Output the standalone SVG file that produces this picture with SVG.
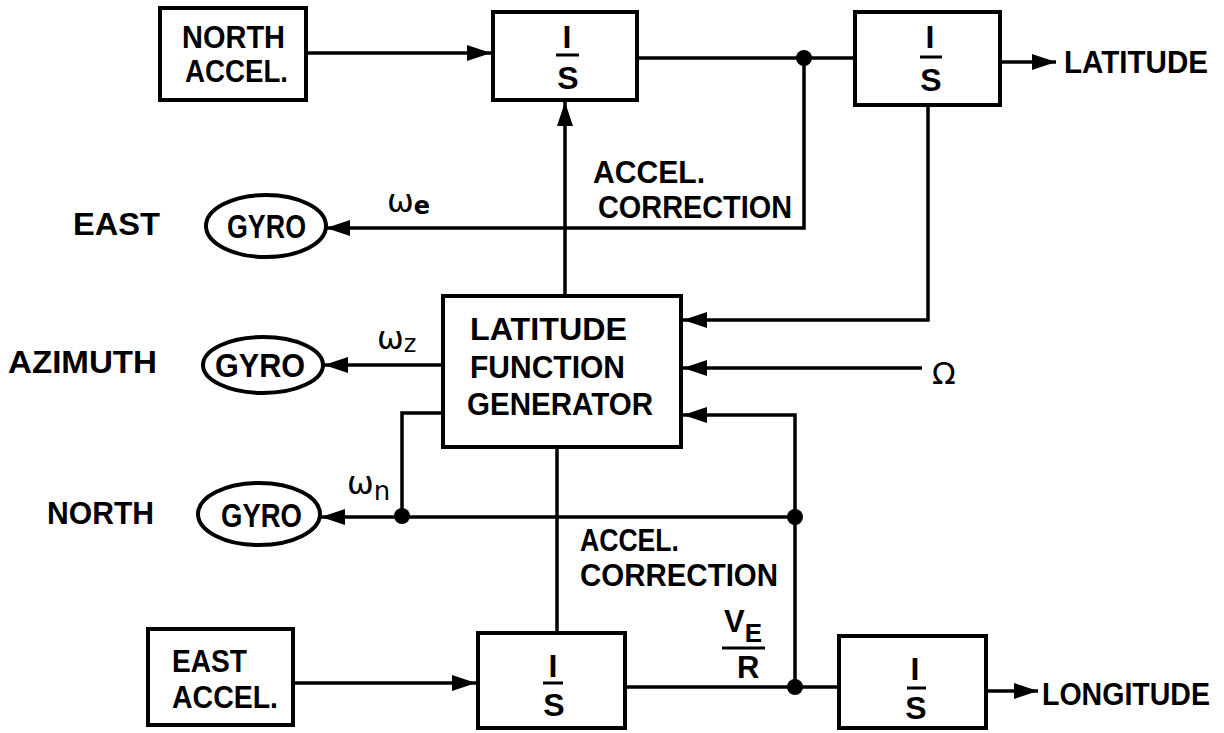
<svg xmlns="http://www.w3.org/2000/svg" width="1224" height="733" viewBox="0 0 1224 733">
<style>
.bx{fill:#fff;stroke:#000;stroke-width:4}
.ln{fill:none;stroke:#000;stroke-width:3.5}
.bar{stroke:#000;stroke-width:3}
.t{font-family:"Liberation Sans",Arial,sans-serif;font-size:31px;font-weight:bold;fill:#000}
.gy{font-size:33px}
.c{text-anchor:middle}
.is{font-size:32px}
.g{font-family:"DejaVu Sans",sans-serif;fill:#000}
</style>
<defs>
<marker id="ah" markerUnits="userSpaceOnUse" markerWidth="25" markerHeight="16" refX="24" refY="8" orient="auto">
<path d="M0,0 L24,8 L0,16 z" fill="#000"/>
</marker>
</defs>
<rect width="1224" height="733" fill="#fff"/>
<g id="connectors">
<path class="ln" d="M306,53 H491" marker-end="url(#ah)"/>
<path class="ln" d="M637,58 H855"/>
<path class="ln" d="M1000,62 H1056" marker-end="url(#ah)"/>
<path class="ln" d="M804,58 V228 H326" marker-end="url(#ah)"/>
<path class="ln" d="M565,296 V102" marker-end="url(#ah)"/>
<path class="ln" d="M928,105 V320 H683" marker-end="url(#ah)"/>
<path class="ln" d="M922,368 H683" marker-end="url(#ah)"/>
<path class="ln" d="M795,687 V415 H683" marker-end="url(#ah)"/>
<path class="ln" d="M443,365 H324" marker-end="url(#ah)"/>
<path class="ln" d="M443,413 H402 V515"/>
<path class="ln" d="M795,517 H321" marker-end="url(#ah)"/>
<path class="ln" d="M557,447 V633"/>
<path class="ln" d="M293,683 H476" marker-end="url(#ah)"/>
<path class="ln" d="M625,687 H839"/>
<path class="ln" d="M986,691 H1038" marker-end="url(#ah)"/>
<circle cx="804" cy="58" r="8"/>
<circle cx="402" cy="516" r="8"/>
<circle cx="795" cy="517" r="8"/>
<circle cx="795" cy="687" r="8"/>
</g>
<g id="north-accel">
<rect class="bx" x="160" y="8" width="146" height="92"/>
<text class="t" x="182" y="48" textLength="103" lengthAdjust="spacingAndGlyphs">NORTH</text>
<text class="t" x="185" y="82" textLength="103" lengthAdjust="spacingAndGlyphs">ACCEL.</text>
</g>
<g id="integrator-north">
<rect class="bx" x="493" y="12" width="144" height="88"/>
<text class="t c is" x="567" y="48">I</text>
<line class="bar" x1="556" y1="55" x2="579" y2="55"/>
<text class="t c is" x="568" y="89">S</text>
</g>
<g id="integrator-latitude">
<rect class="bx" x="855" y="12" width="145" height="93"/>
<text class="t c is" x="930" y="48">I</text>
<line class="bar" x1="920" y1="57" x2="942" y2="57"/>
<text class="t c is" x="931" y="91">S</text>
</g>
<g id="latitude-out">
<text class="t" x="1064" y="73" textLength="144" lengthAdjust="spacingAndGlyphs">LATITUDE</text>
</g>
<g id="east-gyro">
<text class="t" x="73" y="235" textLength="87" lengthAdjust="spacingAndGlyphs">EAST</text>
<ellipse class="bx" cx="266" cy="226" rx="60" ry="31"/>
<text class="t gy" x="227" y="238" textLength="79" lengthAdjust="spacingAndGlyphs">GYRO</text>
<text class="g" x="387" y="212" font-size="32">ω<tspan font-size="24" font-weight="bold" dy="2">e</tspan></text>
</g>
<g id="accel-correction-top">
<text class="t" x="593" y="183" textLength="112" lengthAdjust="spacingAndGlyphs">ACCEL.</text>
<text class="t" x="598" y="218" textLength="194" lengthAdjust="spacingAndGlyphs">CORRECTION</text>
</g>
<g id="azimuth-gyro">
<text class="t" x="8" y="373" textLength="149" lengthAdjust="spacingAndGlyphs">AZIMUTH</text>
<ellipse class="bx" cx="263" cy="365" rx="60" ry="28"/>
<text class="t gy" x="215" y="377" textLength="90" lengthAdjust="spacingAndGlyphs">GYRO</text>
<text class="g" x="377" y="349" font-size="32">ω<tspan font-size="24" dy="3">z</tspan></text>
</g>
<g id="latitude-function-generator">
<rect class="bx" x="443" y="296" width="238" height="151"/>
<text class="t" x="470" y="340" textLength="157" lengthAdjust="spacingAndGlyphs">LATITUDE</text>
<text class="t" x="470" y="378" textLength="155" lengthAdjust="spacingAndGlyphs">FUNCTION</text>
<text class="t" x="467" y="415" textLength="186" lengthAdjust="spacingAndGlyphs">GENERATOR</text>
</g>
<g id="omega-in">
<text class="g" x="932" y="384" font-size="31">Ω</text>
</g>
<g id="north-gyro">
<text class="t" x="47" y="524" textLength="107" lengthAdjust="spacingAndGlyphs">NORTH</text>
<ellipse class="bx" cx="259" cy="514" rx="61" ry="31"/>
<text class="t gy" x="221" y="527" textLength="81" lengthAdjust="spacingAndGlyphs">GYRO</text>
<text class="g" x="347" y="494" font-size="32">ω<tspan font-size="26" dy="6">n</tspan></text>
</g>
<g id="accel-correction-bottom">
<text class="t" x="580" y="551" textLength="99" lengthAdjust="spacingAndGlyphs">ACCEL.</text>
<text class="t" x="580" y="586" textLength="198" lengthAdjust="spacingAndGlyphs">CORRECTION</text>
</g>
<g id="ve-over-r">
<text class="t" x="724" y="632" font-size="29">V<tspan font-size="26" dy="10">E</tspan></text>
<line class="bar" x1="722" y1="648" x2="765" y2="648"/>
<text class="t" x="737" y="678" font-size="29">R</text>
</g>
<g id="east-accel">
<rect class="bx" x="148" y="629" width="145" height="96"/>
<text class="t" x="172" y="672" textLength="75" lengthAdjust="spacingAndGlyphs">EAST</text>
<text class="t" x="172" y="708" textLength="106" lengthAdjust="spacingAndGlyphs">ACCEL.</text>
</g>
<g id="integrator-east">
<rect class="bx" x="478" y="633" width="147" height="95"/>
<text class="t c is" x="553" y="677">I</text>
<line class="bar" x1="543" y1="683" x2="563" y2="683"/>
<text class="t c is" x="554" y="716">S</text>
</g>
<g id="integrator-longitude">
<rect class="bx" x="839" y="636" width="147" height="92"/>
<text class="t c is" x="915" y="680">I</text>
<line class="bar" x1="907" y1="688" x2="926" y2="688"/>
<text class="t c is" x="916" y="719">S</text>
</g>
<g id="longitude-out">
<text class="t" x="1042" y="705" textLength="168" lengthAdjust="spacingAndGlyphs">LONGITUDE</text>
</g>
</svg>
